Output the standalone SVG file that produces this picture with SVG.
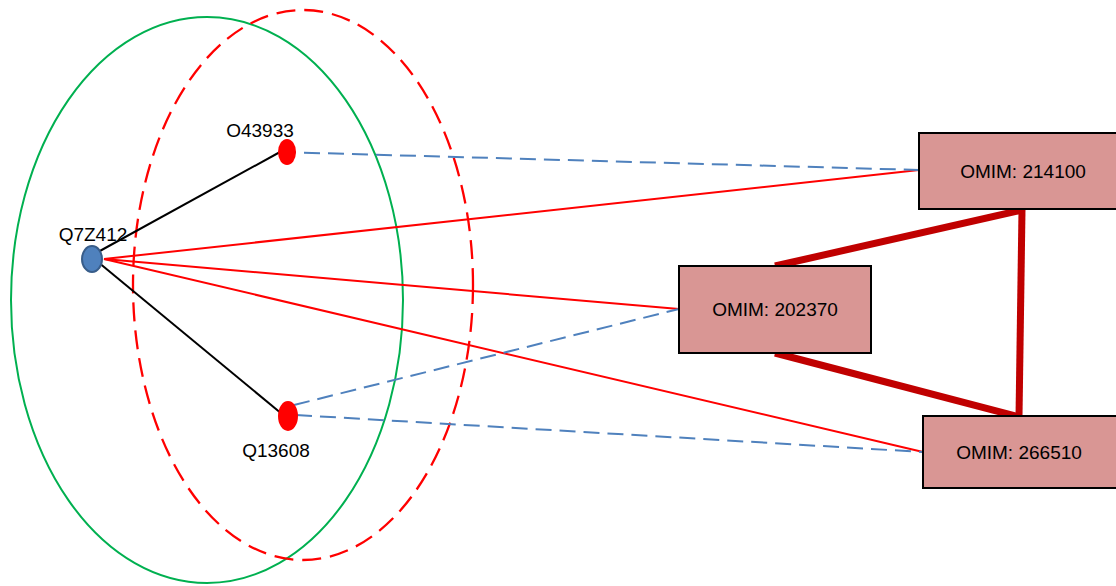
<svg xmlns="http://www.w3.org/2000/svg" width="1116" height="586" viewBox="0 0 1116 586">
<style>
text{font-family:"Liberation Sans",Arial,sans-serif;font-size:19px;fill:#000}
.box{fill:#d99694;stroke:#000;stroke-width:2}
.thin{stroke:#ff0000;stroke-width:2;fill:none}
.blk{stroke:#000;stroke-width:2;fill:none}
.dash{stroke:#4f81bd;stroke-width:2;stroke-dasharray:16 8;fill:none}
.thick{stroke:#c00000;stroke-width:7;fill:none}
</style>
<rect width="1116" height="586" fill="#fff"/>
<g id="sets">
<ellipse cx="207" cy="300" rx="196" ry="283" fill="none" stroke="#00b050" stroke-width="2"/>
<ellipse cx="303" cy="285" rx="170" ry="275" fill="none" stroke="#ff0000" stroke-width="2.3" stroke-dasharray="19 9"/>
</g>
<g id="connectors">
<line class="thin" x1="104" y1="259" x2="919" y2="170"/>
<line class="thin" x1="104" y1="259" x2="679" y2="309"/>
<line class="thin" x1="104" y1="259" x2="923" y2="452"/>
<line class="blk" x1="98" y1="252" x2="280" y2="152"/>
<line class="blk" x1="98" y1="262" x2="282" y2="414"/>
<line class="dash" x1="280" y1="152" x2="919" y2="170"/>
<line class="dash" x1="294" y1="405" x2="679" y2="309"/>
<line class="dash" x1="296" y1="415" x2="923" y2="452"/>
<line class="thick" x1="775" y1="266" x2="1022" y2="210"/>
<line class="thick" x1="1022" y1="210" x2="1019" y2="417"/>
<line class="thick" x1="775" y1="353" x2="1019" y2="417"/>
</g>
<g id="Q7Z412">
<ellipse cx="92" cy="259" rx="10" ry="13" fill="#4f81bd" stroke="#385d8a" stroke-width="2"/>
<text x="93" y="241" text-anchor="middle">Q7Z412</text>
</g>
<g id="O43933">
<ellipse cx="287" cy="152" rx="9" ry="13" fill="#ff0000"/>
<text x="260" y="137" text-anchor="middle">O43933</text>
</g>
<g id="Q13608">
<ellipse cx="288" cy="416" rx="10" ry="15" fill="#ff0000"/>
<text x="276" y="457" text-anchor="middle">Q13608</text>
</g>
<g id="OMIM214100">
<rect class="box" x="919" y="133" width="200" height="76"/>
<text x="1023" y="178" text-anchor="middle">OMIM: 214100</text>
</g>
<g id="OMIM202370">
<rect class="box" x="679" y="266" width="192" height="87"/>
<text x="775" y="316" text-anchor="middle">OMIM: 202370</text>
</g>
<g id="OMIM266510">
<rect class="box" x="923" y="416" width="196" height="72"/>
<text x="1019" y="459" text-anchor="middle">OMIM: 266510</text>
</g>
</svg>
